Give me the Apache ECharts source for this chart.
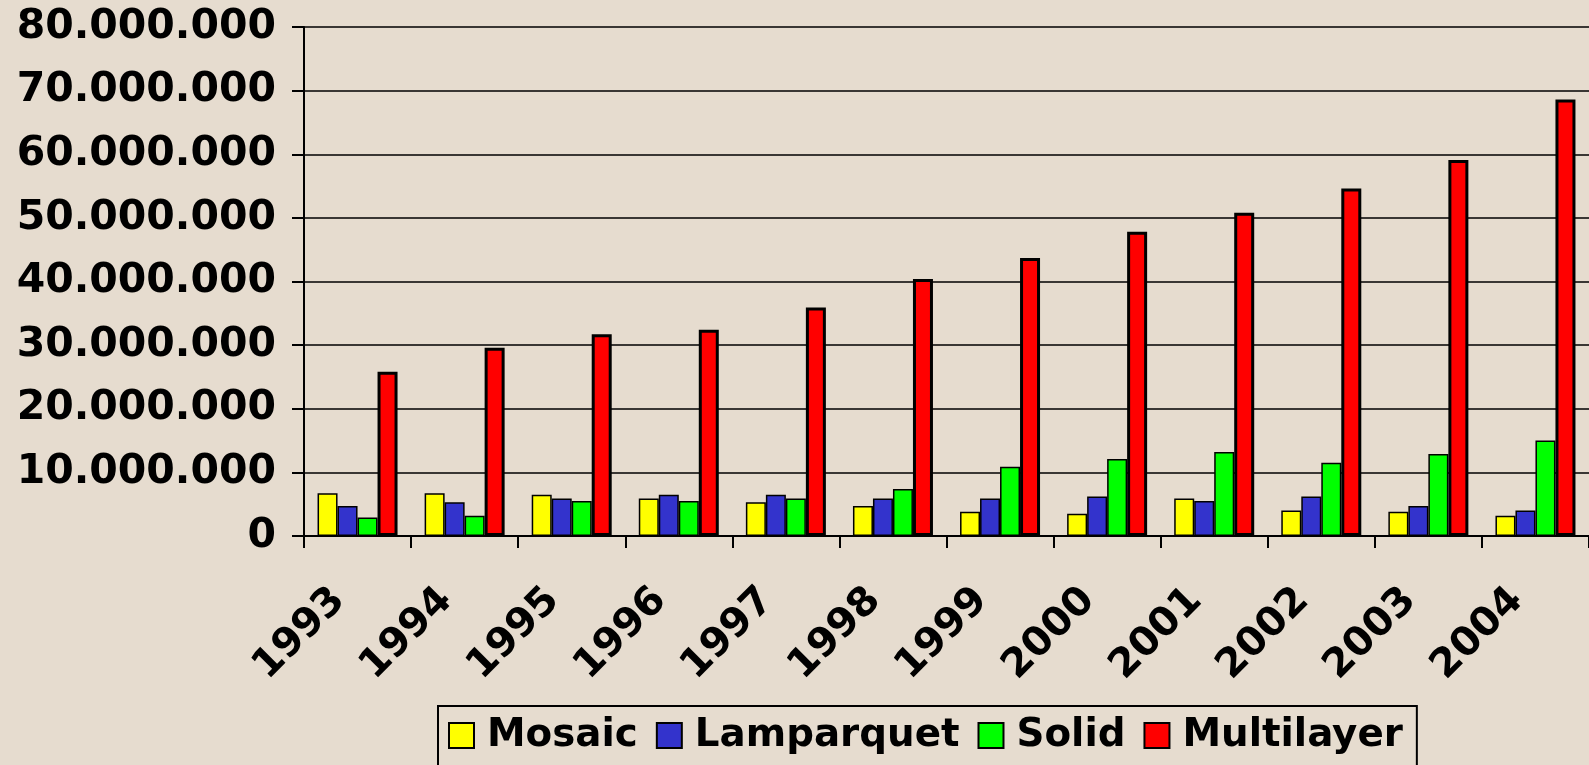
<!DOCTYPE html>
<html>
<head>
<meta charset="utf-8">
<script src="https://cdn.jsdelivr.net/npm/echarts@6/dist/echarts.min.js"></script>
<style>
  html, body { margin: 0; padding: 0; background: #e6dccf; }
  #chart { width: 1589px; height: 765px; }
</style>
</head>
<body>
<div id="chart"></div>
<script>
const years = ['1993','1994','1995','1996','1997','1998','1999','2000','2001','2002','2003','2004'];
const mosaic      = [6700000, 6700000, 6500000, 5900000, 5300000, 4700000, 3800000, 3500000, 5900000, 4000000, 3800000, 3200000];
const lamparquet  = [4700000, 5300000, 5900000, 6500000, 6500000, 5900000, 5900000, 6200000, 5500000, 6200000, 4700000, 4000000];
const solid       = [2900000, 3200000, 5500000, 5500000, 5900000, 7400000, 10900000, 12100000, 13200000, 11500000, 12900000, 15000000];
const multilayer  = [25800000, 29600000, 31700000, 32400000, 35900000, 40400000, 43700000, 47800000, 50800000, 54600000, 59100000, 68600000];

function fmt(v) {
  return String(v).replace(/\B(?=(\d{3})+(?!\d))/g, '.');
}

const chart = echarts.init(document.getElementById('chart'), null, { renderer: 'canvas' });
const font = 'DejaVu Sans, Verdana, sans-serif';
function bar(name, data, color, bw) {
  return {
    name: name, type: 'bar', data: data, barWidth: 20, barGap: '0%',
    itemStyle: { color: color, borderColor: '#000', borderWidth: bw },
    emphasis: { disabled: true }
  };
}
chart.setOption({
  backgroundColor: '#e6dccf',
  animation: false,
  grid: { left: 304, top: 27, bottom: 229, right: -6, containLabel: false },
  legend: {
    left: 438, top: 706,
    orient: 'horizontal',
    itemWidth: 25, itemHeight: 25, itemGap: 18,
    icon: 'rect',
    borderColor: '#000', borderWidth: 2,
    padding: [10, 14, 30, 10],
    backgroundColor: 'transparent',
    textStyle: { fontFamily: font, fontWeight: 'bold', fontSize: 38.8, color: '#000', padding: [0, 0, 0, 8] },
    itemStyle: { borderColor: '#000', borderWidth: 2 }
  },
  xAxis: {
    type: 'category', data: years,
    axisLine: { lineStyle: { color: '#000', width: 2 } },
    axisTick: { show: true, length: 12, lineStyle: { color: '#000', width: 2 } },
    axisLabel: {
      rotate: 45, margin: 40, interval: 0,
      fontFamily: font, fontWeight: 'bold', fontSize: 40, color: '#000',
      padding: [0, 26, 0, 0]
    },
    splitLine: { show: false }
  },
  yAxis: {
    type: 'value', min: 0, max: 80000000, interval: 10000000,
    axisLine: { show: true, lineStyle: { color: '#000', width: 2 } },
    axisTick: { show: true, length: 12, lineStyle: { color: '#000', width: 2 } },
    axisLabel: {
      margin: 28, formatter: fmt,
      fontFamily: font, fontWeight: 'bold', fontSize: 41, color: '#000'
    },
    splitLine: { show: true, lineStyle: { color: '#000', width: 1.5 } }
  },
  series: [
    bar('Mosaic', mosaic, '#ffff00', 1.5),
    bar('Lamparquet', lamparquet, '#3333cc', 1.5),
    bar('Solid', solid, '#00ff00', 1.5),
    bar('Multilayer', multilayer, '#ff0000', 3)
  ]
});
</script>
</body>
</html>
